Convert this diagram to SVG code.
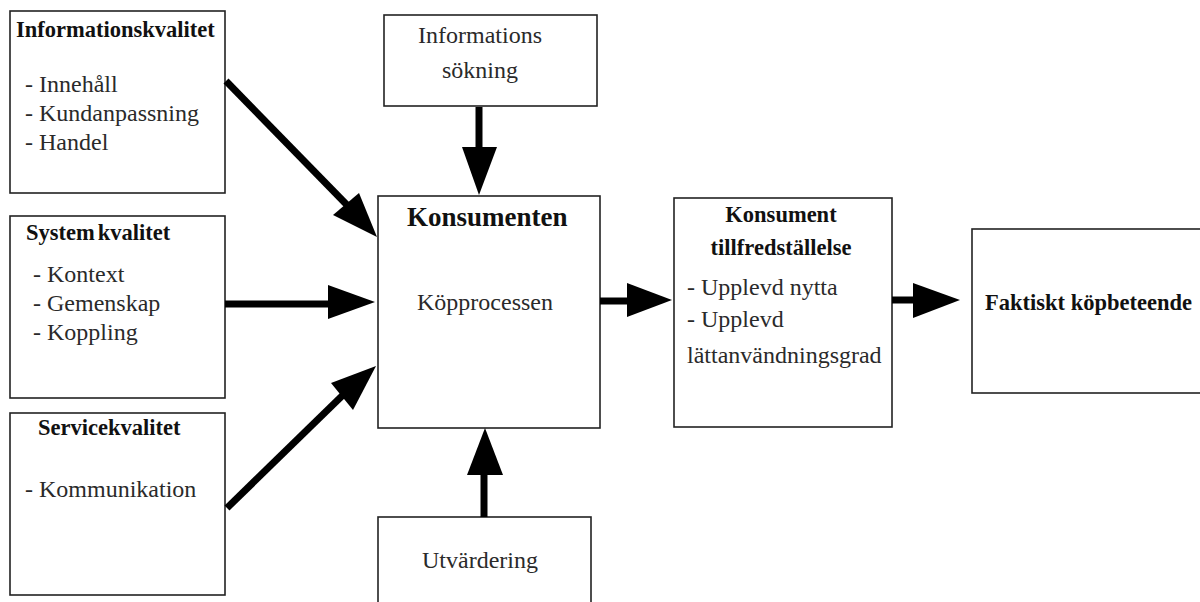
<svg xmlns="http://www.w3.org/2000/svg" width="1200" height="602" viewBox="0 0 1200 602">
<style>
.box{fill:#fff;stroke:#222;stroke-width:1.6}
text{font-family:"Liberation Serif","Times New Roman","DejaVu Serif",serif}
.t{font-size:24px;font-weight:normal;font-style:normal;fill:#2a2a2a}
.h{font-size:22.5px;font-weight:bold;fill:#111}
.shaft{stroke:#000;stroke-width:7;fill:none}
.head{fill:#000}
</style>
<rect width="1200" height="602" fill="#fff"/>
<g id="node-informationskvalitet">
<rect class="box" x="10" y="11" width="215" height="182"/>
<text class="h" x="16" y="37">Informationskvalitet</text>
<text class="t" x="25" y="92">- Innehåll</text>
<text class="t" x="25" y="121">- Kundanpassning</text>
<text class="t" x="25" y="150">- Handel</text>
</g>
<g id="node-systemkvalitet">
<rect class="box" x="10" y="216" width="215" height="182"/>
<text class="h" x="26" y="240">System<tspan dx="3">kvalitet</tspan></text>
<text class="t" x="33" y="282">- Kontext</text>
<text class="t" x="33" y="311">- Gemenskap</text>
<text class="t" x="33" y="340">- Koppling</text>
</g>
<g id="node-servicekvalitet">
<rect class="box" x="10" y="413" width="215" height="182"/>
<text class="h" x="38" y="435">Servicekvalitet</text>
<text class="t" x="25" y="497">- Kommunikation</text>
</g>
<g id="node-informationssokning">
<rect class="box" x="384" y="15" width="213" height="91"/>
<text class="t" x="418" y="43">Informations</text>
<text class="t" x="442" y="78">sökning</text>
</g>
<g id="node-konsumenten">
<rect class="box" x="378" y="196" width="222" height="232"/>
<text class="h" x="407" y="226" style="font-size:27px">Konsumenten</text>
<text class="t" x="417" y="310">Köpprocessen</text>
</g>
<g id="node-utvardering">
<rect class="box" x="378" y="517" width="213" height="100"/>
<text class="t" x="422" y="568">Utvärdering</text>
</g>
<g id="node-tillfredstallelse">
<rect class="box" x="674" y="198" width="218" height="229"/>
<text class="h" x="781" y="222" text-anchor="middle">Konsument</text>
<text class="h" x="781" y="255" text-anchor="middle">tillfredställelse</text>
<text class="t" x="687" y="295">- Upplevd nytta</text>
<text class="t" x="687" y="327">- Upplevd</text>
<text class="t" x="687" y="363">lättanvändningsgrad</text>
</g>
<g id="node-faktiskt">
<rect class="box" x="972" y="229" width="240" height="164"/>
<text class="h" x="985" y="310">Faktiskt köpbeteende</text>
</g>
<g id="connectors">
<line class="shaft" x1="226" y1="81" x2="348" y2="206"/>
<polygon class="head" points="377,237 333,215 359,193"/>
<line class="shaft" x1="225" y1="304" x2="330" y2="304"/>
<polygon class="head" points="375,302 328,285 328,319"/>
<line class="shaft" x1="227" y1="508" x2="344" y2="394"/>
<polygon class="head" points="376,366 331,383 353,410"/>
<line class="shaft" x1="479" y1="107" x2="479" y2="150"/>
<polygon class="head" points="479,195 462,147 497,147"/>
<line class="shaft" x1="484" y1="517" x2="484" y2="472"/>
<polygon class="head" points="485,428 467,475 503,475"/>
<line class="shaft" x1="600" y1="301" x2="629" y2="301"/>
<polygon class="head" points="672,300 627,283 627,317"/>
<line class="shaft" x1="892" y1="300" x2="915" y2="300"/>
<polygon class="head" points="960,300 913,283 913,318"/>
</g>
</svg>
